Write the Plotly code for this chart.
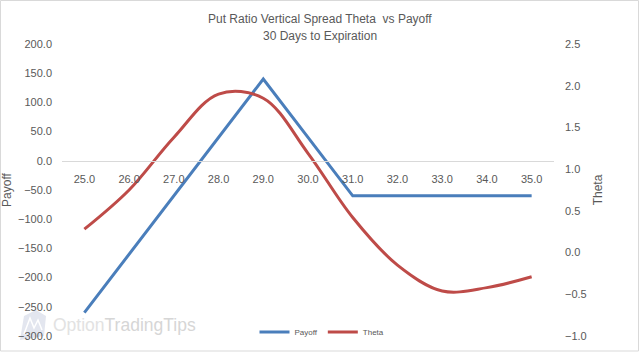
import plotly.graph_objects as go

strikes = ["25.0", "26.0", "27.0", "28.0", "29.0", "30.0", "31.0", "32.0", "33.0", "34.0", "35.0"]
payoff = [-260, -160, -60, 40, 140, 40, -60, -60, -60, -60, -60]
theta = [0.28, 0.75, 1.38, 1.90, 1.85, 1.19, 0.42, -0.15, -0.46, -0.42, -0.29]

FONT = "Liberation Sans, Arial, sans-serif"
GRAY = "#595959"
BLUE = "#4A7EBB"
RED = "#BE4B48"

W, H = 640, 352
L, R, T, B = 62, 86, 44, 16
pw, ph = W - L - R, H - T - B

def px_x(p):
    return (p - L) / pw

def px_y(p):
    return (H - B - p) / ph

fig = go.Figure()
fig.add_trace(go.Scatter(
    x=strikes, y=theta, name="Theta", yaxis="y2", mode="lines",
    line=dict(color=RED, width=3, shape="spline", smoothing=1.0),
    legendrank=2,
))
fig.add_trace(go.Scatter(
    x=strikes, y=payoff, name="Payoff", mode="lines",
    line=dict(color=BLUE, width=3),
    legendrank=1,
))

fig.update_layout(
    width=W, height=H, autosize=False,
    margin=dict(l=L, r=R, t=T, b=B, pad=0, autoexpand=False),
    paper_bgcolor="white", plot_bgcolor="white",
    font=dict(family=FONT, color=GRAY, size=11),
    showlegend=True,
    legend=dict(orientation="h", x=px_x(322), xanchor="center",
                y=px_y(332), yanchor="middle",
                font=dict(size=8, color=GRAY), bgcolor="rgba(0,0,0,0)",
                itemwidth=30, tracegroupgap=0),
    xaxis=dict(type="category", range=[-0.5, 10.5], anchor="free",
               position=px_y(160.8), showgrid=False, showline=True,
               linecolor="#d9d9d9", linewidth=1, ticks="", zeroline=False,
               ticklabelstandoff=8, automargin=False, tickangle=0,
               tickfont=dict(size=11, color=GRAY)),
    yaxis=dict(range=[-300, 200], dtick=50, tickformat=".1f", showgrid=False,
               zeroline=False, showline=False, ticks="", automargin=False,
               ticklabelstandoff=9, tickfont=dict(size=11, color=GRAY),
               title=dict(text="Payoff", font=dict(size=12, color=GRAY), standoff=5)),
    yaxis2=dict(range=[-1, 2.5], dtick=0.5, tickformat=".1f", overlaying="y",
                side="right", anchor="x", showgrid=False, zeroline=False,
                showline=False, ticks="", automargin=False,
                ticklabelstandoff=10, tickfont=dict(size=11, color=GRAY),
                title=dict(text="Theta", font=dict(size=12, color=GRAY), standoff=7)),
)

# titles
fig.add_annotation(text="Put Ratio Vertical Spread Theta  vs Payoff", xref="paper", yref="paper",
                   x=px_x(320), y=px_y(19), showarrow=False, xanchor="center", yanchor="middle",
                   font=dict(size=12, color=GRAY, family=FONT))
fig.add_annotation(text="30 Days to Expiration", xref="paper", yref="paper",
                   x=px_x(320), y=px_y(36), showarrow=False, xanchor="center", yanchor="middle",
                   font=dict(size=12, color=GRAY, family=FONT))

# watermark
fig.add_annotation(text="<span style='color:#e2e2e2'>Option</span><span style='color:#d6d6d6'>TradingTips</span>",
                   xref="paper", yref="paper", x=px_x(51), y=px_y(325),
                   showarrow=False, xanchor="left", yanchor="middle",
                   font=dict(size=17.5, family=FONT))
fig.add_shape(type="path", xref="paper", yref="paper",
              path=f"M {px_x(20)},{px_y(340)} L {px_x(24)},{px_y(316)} L {px_x(36)},{px_y(310)} L {px_x(46)},{px_y(316)} L {px_x(44)},{px_y(336)} Z",
              fillcolor="#e3e6ef", line=dict(width=0), layer="below")
fig.add_shape(type="path", xref="paper", yref="paper",
              path=f"M {px_x(24)},{px_y(334)} L {px_x(30)},{px_y(318)} L {px_x(34)},{px_y(328)} L {px_x(38)},{px_y(320)} L {px_x(42)},{px_y(330)}",
              line=dict(color="white", width=1.5), layer="below")

# chart border
fig.add_shape(type="rect", xref="paper", yref="paper",
              x0=px_x(0.5), x1=px_x(638.5), y0=px_y(351), y1=px_y(0.5),
              line=dict(color="#d9d9d9", width=1), fillcolor="rgba(0,0,0,0)", layer="above")

fig.write_html("out.html")
